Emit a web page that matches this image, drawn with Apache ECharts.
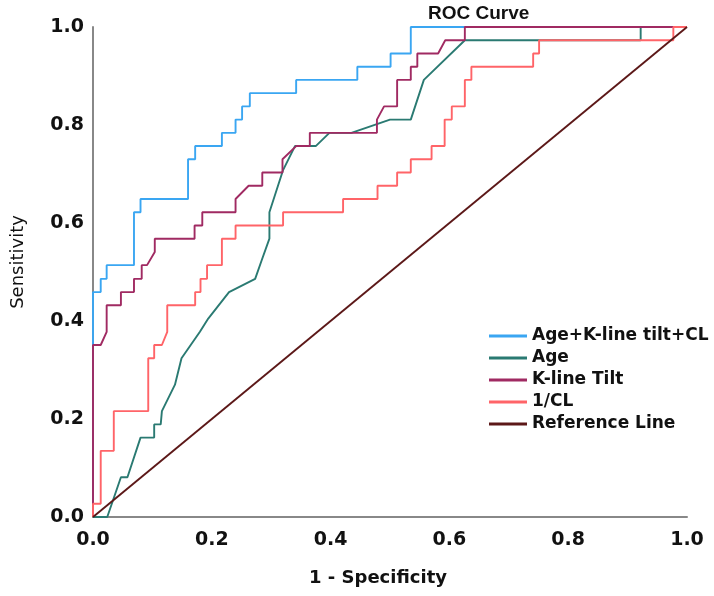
<!DOCTYPE html>
<html>
<head>
<meta charset="utf-8">
<title>ROC Curve</title>
<script src="https://cdn.jsdelivr.net/npm/echarts@6/dist/echarts.min.js"></script>
<style>
  html, body { margin: 0; padding: 0; background: #fff; }
  #chart { width: 714px; height: 596px; }
</style>
</head>
<body>
<div id="chart"></div>
<script>
// step points (1 - specificity, sensitivity)
var comboX = [0, 0, 0.013, 0.013, 0.023, 0.023, 0.069, 0.069, 0.080, 0.080, 0.160, 0.160, 0.172, 0.172, 0.217, 0.217, 0.240, 0.240, 0.251, 0.251, 0.264, 0.264, 0.342, 0.342, 0.445, 0.445, 0.501, 0.501, 0.535, 0.535, 1];
var comboY = [0, 0.459, 0.459, 0.486, 0.486, 0.514, 0.514, 0.622, 0.622, 0.649, 0.649, 0.730, 0.730, 0.757, 0.757, 0.784, 0.784, 0.811, 0.811, 0.838, 0.838, 0.865, 0.865, 0.892, 0.892, 0.919, 0.919, 0.946, 0.946, 1, 1];

var ageX = [0, 0.024, 0.047, 0.058, 0.080, 0.103, 0.103, 0.114, 0.116, 0.138, 0.149, 0.180, 0.194, 0.229, 0.273, 0.284, 0.297, 0.297, 0.320, 0.340, 0.375, 0.398, 0.435, 0.500, 0.535, 0.557, 0.626, 0.922, 0.922, 1];
var ageY = [0, 0, 0.081, 0.081, 0.162, 0.162, 0.189, 0.189, 0.216, 0.270, 0.324, 0.378, 0.405, 0.459, 0.486, 0.524, 0.568, 0.622, 0.708, 0.757, 0.757, 0.784, 0.784, 0.811, 0.811, 0.892, 0.973, 0.973, 1, 1];

var tiltX = [0, 0, 0.013, 0.023, 0.023, 0.047, 0.047, 0.069, 0.069, 0.082, 0.082, 0.091, 0.104, 0.104, 0.171, 0.171, 0.184, 0.184, 0.240, 0.240, 0.262, 0.285, 0.285, 0.319, 0.319, 0.342, 0.365, 0.365, 0.478, 0.478, 0.490, 0.512, 0.512, 0.535, 0.535, 0.546, 0.546, 0.581, 0.593, 0.626, 0.626, 1];
var tiltY = [0, 0.351, 0.351, 0.378, 0.432, 0.432, 0.459, 0.459, 0.486, 0.486, 0.514, 0.514, 0.541, 0.568, 0.568, 0.595, 0.595, 0.622, 0.622, 0.649, 0.676, 0.676, 0.703, 0.703, 0.730, 0.757, 0.757, 0.784, 0.784, 0.811, 0.838, 0.838, 0.892, 0.892, 0.919, 0.919, 0.946, 0.946, 0.973, 0.973, 1, 1];

var clX = [0, 0, 0.013, 0.013, 0.035, 0.035, 0.093, 0.093, 0.103, 0.103, 0.116, 0.125, 0.125, 0.172, 0.172, 0.181, 0.181, 0.192, 0.192, 0.217, 0.217, 0.240, 0.240, 0.320, 0.320, 0.421, 0.421, 0.479, 0.479, 0.512, 0.512, 0.535, 0.535, 0.570, 0.570, 0.592, 0.592, 0.604, 0.604, 0.626, 0.626, 0.637, 0.637, 0.741, 0.741, 0.751, 0.751, 0.977, 0.977, 1];
var clY = [0, 0.027, 0.027, 0.135, 0.135, 0.216, 0.216, 0.324, 0.324, 0.351, 0.351, 0.378, 0.432, 0.432, 0.459, 0.459, 0.486, 0.486, 0.514, 0.514, 0.568, 0.568, 0.595, 0.595, 0.622, 0.622, 0.649, 0.649, 0.676, 0.676, 0.703, 0.703, 0.730, 0.730, 0.757, 0.757, 0.811, 0.811, 0.838, 0.838, 0.892, 0.892, 0.919, 0.919, 0.946, 0.946, 0.973, 0.973, 1, 1];

var refX = [0, 1];
var refY = [0, 1];

var seriesNames = ['Age+K-line tilt+CL', 'Age', 'K-line Tilt', '1/CL', 'Reference Line'];
var seriesColors = ['#3aa6f2', '#2a7a72', '#a02a62', '#ff6468', '#5c1818'];
var tickLabels = ['0.0', '0.2', '0.4', '0.6', '0.8', '1.0'];

function pairs(xs, ys) {
  var out = [];
  for (var i = 0; i < xs.length; i++) {
    out.push([xs[i], ys[i]]);
  }
  return out;
}

var allData = [
  pairs(comboX, comboY),
  pairs(ageX, ageY),
  pairs(tiltX, tiltY),
  pairs(clX, clY),
  pairs(refX, refY)
];

var series = [];
for (var i = 0; i < seriesNames.length; i++) {
  series.push({
    name: seriesNames[i],
    type: 'line',
    symbol: 'none',
    smooth: false,
    data: allData[i],
    lineStyle: { color: seriesColors[i], width: 1.9 },
    itemStyle: { color: seriesColors[i] },
    z: 2 + i
  });
}

var dom = document.getElementById('chart');
var myChart = echarts.init(dom);

var option = {
  animation: false,
  backgroundColor: '#ffffff',
  title: {
    text: 'ROC Curve',
    left: 423,
    top: -1,
    textStyle: {
      fontFamily: 'Liberation Sans',
      fontWeight: 'bold',
      fontSize: 19,
      color: '#111'
    }
  },
  grid: {
    left: 93,
    right: 27,
    top: 27,
    bottom: 79
  },
  legend: {
    orient: 'vertical',
    left: 484,
    top: 321,
    icon: 'path://M0,0 H38 V3 H0 Z',
    itemWidth: 38,
    itemHeight: 3,
    itemGap: 2,
    data: seriesNames,
    textStyle: {
      fontFamily: 'DejaVu Sans',
      fontWeight: 'bold',
      fontSize: 17,
      lineHeight: 20,
      color: '#111'
    }
  },
  xAxis: {
    type: 'value',
    min: 0,
    max: 1,
    interval: 0.2,
    name: '1 - Specificity',
    nameLocation: 'middle',
    nameGap: 52,
    nameTextStyle: {
      fontFamily: 'DejaVu Sans',
      fontWeight: 'bold',
      fontSize: 18,
      color: '#111',
      padding: [0, 24, 0, 0]
    },
    axisLine: { show: true, lineStyle: { color: '#888', width: 2 } },
    axisTick: { show: false },
    splitLine: { show: false },
    axisLabel: {
      margin: 14,
      fontFamily: 'DejaVu Sans',
      fontWeight: 'bold',
      fontSize: 19,
      color: '#111',
      formatter: function (v) { return tickLabels[Math.round(v * 5)]; }
    }
  },
  yAxis: {
    type: 'value',
    min: 0,
    max: 1,
    interval: 0.2,
    name: 'Sensitivity',
    nameLocation: 'middle',
    nameGap: 66,
    nameTextStyle: {
      fontFamily: 'DejaVu Sans',
      fontSize: 18,
      color: '#111',
      padding: [0, 0, 0, 20]
    },
    axisLine: { show: true, lineStyle: { color: '#888', width: 2 } },
    axisTick: { show: false },
    splitLine: { show: false },
    axisLabel: {
      margin: 9,
      fontFamily: 'DejaVu Sans',
      fontWeight: 'bold',
      fontSize: 19,
      color: '#111',
      formatter: function (v) { return tickLabels[Math.round(v * 5)]; }
    }
  },
  series: series
};

if (option && typeof option === 'object') {
  myChart.setOption(option);
}
</script>
</body>
</html>
